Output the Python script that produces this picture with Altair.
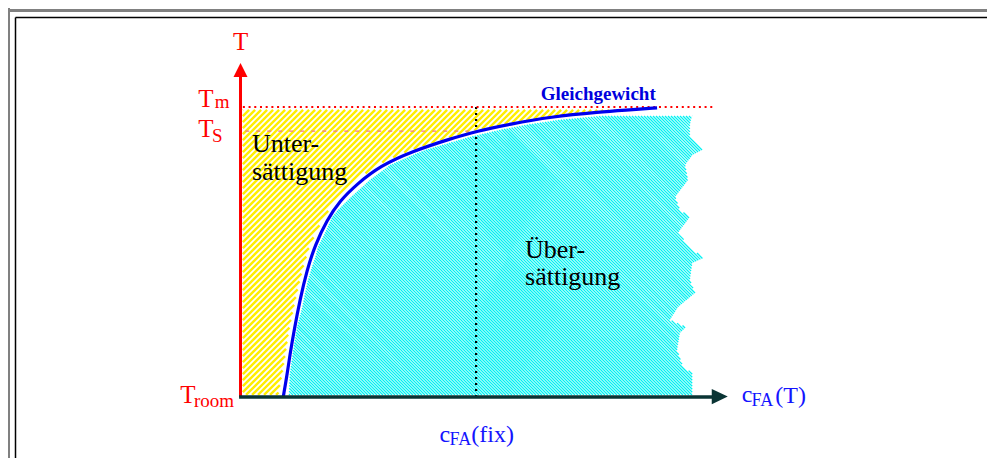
import altair as alt
import pandas as pd

# ---------------- data (c: concentration units, T: temperature units) ----------------
# equilibrium curve "Gleichgewicht"
curve_c = [9.0, 9.8, 10.4, 11.3, 12.5, 14.0, 15.7, 18.2, 20.9, 24.5, 29.4, 36.3, 44.1, 49.8, 56.7, 65.2, 75.7, 82.0, 87.7]
curve_T = [0.0, 7.6, 14.5, 23.1, 33.4, 43.8, 52.4, 61.0, 67.6, 73.4, 79.7, 84.8, 89.0, 91.7, 94.1, 96.6, 98.3, 99.0, 99.7]

# under-saturated region (left of curve)
under_T = [0.7, 7.6, 14.5, 23.1, 33.4, 43.8, 52.4, 61.0, 67.6, 73.4, 79.7, 84.8, 89.0, 91.7, 94.1, 96.2, 97.9, 99.0]
under_right = [7.9, 8.7, 9.4, 10.2, 11.5, 13.0, 14.6, 17.2, 19.8, 23.4, 28.4, 35.2, 43.1, 48.7, 55.7, 63.1, 73.6, 81.0]
under_left = 0.5

# super-saturated region (right of curve, ragged right edge)
over_T = [0.7, 8.3, 10.3, 16.2, 22.1, 24.1, 26.6, 31.0, 35.9, 40.3, 46.2, 47.9, 51.7, 56.6, 62.1,
          64.5, 69.0, 74.8, 80.0, 83.4, 85.2, 89.7, 92.1, 93.8, 95.5, 96.9]
over_left = [10.2, 10.4, 10.6, 11.1, 11.7, 11.9, 12.3, 13.0, 13.6, 14.2, 15.3, 15.7, 16.3, 17.8, 19.3,
             20.5, 23.3, 27.2, 31.5, 36.2, 38.9, 48.3, 54.6, 59.9, 66.8, 75.7]
over_right = [95.1, 95.1, 93.2, 91.9, 92.5, 93.8, 90.4, 92.1, 95.7, 94.6, 95.1, 97.4, 94.6, 92.1, 94.6,
              92.5, 91.5, 94.2, 93.6, 95.1, 97.2, 94.6, 94.6, 94.6, 94.8, 95.1]

T_m = 100.0
T_s = 91.7
c_fix = 49.6

labels = ["T", "T", "m", "T", "S", "T", "room", "Unter-", "sättigung", "Über-", "sättigung",
          "c", "FA", "(T)", "c", "FA", "(fix)"]
label_c = [-1.6, -8.9, -5.4, -8.9, -6.0, -12.7, -9.8, 2.4, 2.4, 59.9, 59.9,
           105.5, 107.6, 112.6, 41.9, 44.0, 48.6]
label_T = [119.7, 100.0, 99.7, 89.7, 87.9, -2.1, -3.4, 84.5, 74.8, 47.9, 38.6,
           -1.7, -3.1, -2.1, -15.5, -16.6, -15.5]
label_size = [25, 25, 19, 25, 19, 25, 19, 26, 26, 26, 26, 24, 18, 24, 24, 18, 24]
label_color = ["#ff0000"] * 7 + ["#000000"] * 4 + ["#1414ff"] * 6

title_text = "Gleichgewicht"
title_c, title_T = 63.2, 102.4

# ---------------- layout ----------------
W, H = 979, 450
PX_C, PX_T = 4.75, 2.9          # pixels per unit
X_ORG, Y_ORG = 240.5, 397.0     # page pixel of (c=0, T=0)
c_lo = (8 - X_ORG) / PX_C
c_hi = c_lo + W / PX_C
T_hi = (Y_ORG - 8) / PX_T
T_lo = T_hi - H / PX_T

xs = alt.Scale(domain=[c_lo, c_hi], nice=False, zero=False)
ys = alt.Scale(domain=[T_lo, T_hi], nice=False, zero=False)


def X(f):
    return alt.X(f, type="quantitative", scale=xs, axis=None)


def Y(f):
    return alt.Y(f, type="quantitative", scale=ys, axis=None)


def hatch(poly, period, rising):
    """Diagonal hatch segments (fill style) clipped to a polygon given in data units."""
    pts = [(X_ORG + c * PX_C, Y_ORG - t * PX_T) for c, t in poly]
    f = (lambda p: p[0] + p[1]) if rising else (lambda p: p[0] - p[1])
    vals = [f(p) for p in pts]
    s = int(min(vals)) + 1
    rows = []
    while s < max(vals):
        hits = []
        for i in range(len(pts)):
            p, q = pts[i], pts[(i + 1) % len(pts)]
            fp, fq = vals[i], vals[(i + 1) % len(pts)]
            if (fp <= s < fq) or (fq <= s < fp):
                k = (s - fp) / (fq - fp)
                hits.append((p[0] + k * (q[0] - p[0]), p[1] + k * (q[1] - p[1])))
        hits.sort()
        for j in range(0, len(hits) - 1, 2):
            (x1, y1), (x2, y2) = hits[j], hits[j + 1]
            rows.append({"c": (x1 - X_ORG) / PX_C, "T": (Y_ORG - y1) / PX_T,
                         "c2": (x2 - X_ORG) / PX_C, "T2": (Y_ORG - y2) / PX_T})
        s += period
    return pd.DataFrame(rows)


under_poly = [(under_left, t) for t in under_T] + list(zip(under_right[::-1], under_T[::-1]))
over_poly = list(zip(over_left, over_T)) + list(zip(over_right[::-1], over_T[::-1]))

under = alt.Chart(hatch(under_poly, 6, True)).mark_rule(
    color="#ffee00", strokeWidth=2.4, strokeCap="butt"
).encode(x=X("c"), y=Y("T"), x2="c2", y2="T2")

over = alt.Chart(hatch(over_poly, 3, False)).mark_rule(
    color="#00f2f2", strokeWidth=1.3, strokeCap="butt"
).encode(x=X("c"), y=Y("T"), x2="c2", y2="T2")

ts_line = alt.Chart(pd.DataFrame({"c": [1.0], "c2": [49.0], "T": [T_s]})).mark_rule(
    color="#ee8080", strokeWidth=1.2, strokeDash=[4, 7]
).encode(x=X("c"), x2="c2", y=Y("T"))

tm_line = alt.Chart(pd.DataFrame({"c": [0.5], "c2": [100.0], "T": [T_m]})).mark_rule(
    color="#ff0000", strokeWidth=2, strokeDash=[2, 3.7]
).encode(x=X("c"), x2="c2", y=Y("T"))

fix_line = alt.Chart(pd.DataFrame({"c": [c_fix], "T": [0.0], "T2": [T_m]})).mark_rule(
    color="#000000", strokeWidth=2.2, strokeDash=[2, 4]
).encode(x=X("c"), y=Y("T"), y2="T2")

curve = alt.Chart(pd.DataFrame({"c": curve_c, "T": curve_T})).mark_line(
    color="#0000ee", strokeWidth=3.2, interpolate="basis"
).encode(x=X("c"), y=Y("T"))

y_axis = alt.Chart(pd.DataFrame({"c": [0.0], "T": [0.0], "T2": [110.6]})).mark_rule(
    color="#ff0000", strokeWidth=3
).encode(x=X("c"), y=Y("T"), y2="T2")

y_head = alt.Chart(pd.DataFrame({"c": [0.0], "T": [112.8]})).mark_point(
    shape="M-1,1L0,-1L1,1Z", size=196, filled=True, color="#ff0000", opacity=1, strokeWidth=0
).encode(x=X("c"), y=Y("T"))

x_axis = alt.Chart(pd.DataFrame({"c": [-0.3], "c2": [99.5], "T": [0.0]})).mark_rule(
    color="#0a3434", strokeWidth=3.5
).encode(x=X("c"), x2="c2", y=Y("T"))

x_head = alt.Chart(pd.DataFrame({"c": [100.9], "T": [0.15]})).mark_point(
    shape="M-1,-0.95L1,0L-1,0.95Z", size=256, filled=True, color="#0a3434", opacity=1, strokeWidth=0
).encode(x=X("c"), y=Y("T"))

text_df = pd.DataFrame({"label": labels, "c": label_c, "T": label_T, "s": label_size, "col": label_color})
texts = alt.Chart(text_df).mark_text(
    align="left", baseline="alphabetic", font="Liberation Serif"
).encode(
    x=X("c"), y=Y("T"), text="label:N",
    size=alt.Size("s:Q", scale=None), color=alt.Color("col:N", scale=None)
)

title = alt.Chart(pd.DataFrame({"label": [title_text], "c": [title_c], "T": [title_T]})).mark_text(
    align="left", baseline="alphabetic", font="Liberation Serif", fontWeight="bold",
    fontSize=19, color="#0000dd"
).encode(x=X("c"), y=Y("T"), text="label:N")

one = pd.DataFrame({"k": [0]})
frame = [
    alt.Chart(one).mark_rule(color="#808080", strokeWidth=3).encode(
        x=alt.value(0), x2=alt.value(W), y=alt.value(2.5)),
    alt.Chart(one).mark_rule(color="#808080", strokeWidth=3).encode(
        x=alt.value(0.5), y=alt.value(0), y2=alt.value(H)),
    alt.Chart(one).mark_rule(color="#000000", strokeWidth=1.5).encode(
        x=alt.value(7.5), x2=alt.value(W), y=alt.value(9.5)),
    alt.Chart(one).mark_rule(color="#000000", strokeWidth=1.5).encode(
        x=alt.value(7.5), y=alt.value(9.5), y2=alt.value(H)),
]

chart = alt.layer(
    *frame, under, over, ts_line, fix_line, tm_line, curve, y_axis, y_head, x_axis, x_head, texts, title
).properties(
    width=W, height=H, padding=0, autosize=alt.AutoSizeParams(type="none"), background="white"
).configure_view(stroke=None)

chart.save("out.html", embed_options={"renderer": "svg", "actions": False})
